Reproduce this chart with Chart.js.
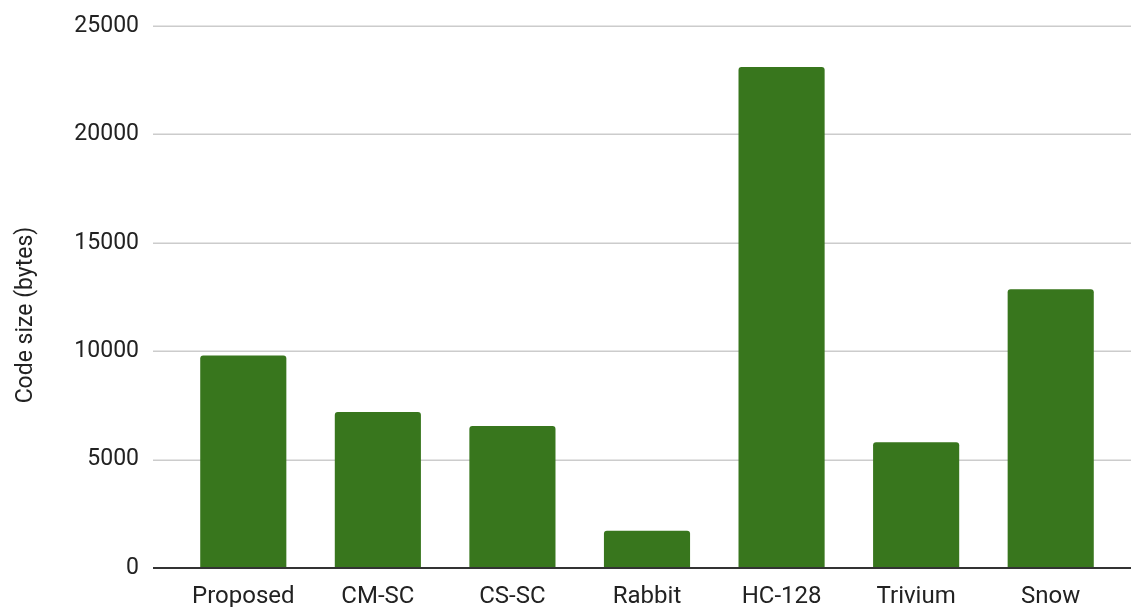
<!DOCTYPE html>
<html>
<head>
<meta charset="utf-8">
<script src="https://cdn.jsdelivr.net/npm/chart.js@4/dist/chart.umd.min.js"></script>
<style>
  html, body { margin: 0; padding: 0; background: #fff; overflow: hidden; }
  #wrap { width: 1131px; height: 607px; position: relative; }
  #wrap canvas { display: block; }
</style>
</head>
<body>
<div id="wrap"><canvas id="c"></canvas></div>
<script>
// Code size of each cipher implementation, in bytes
const categories = ['Proposed', 'CM-SC', 'CS-SC', 'Rabbit', 'HC-128', 'Trivium', 'Snow'];
const codeSize = [9800, 7200, 6550, 1720, 23110, 5800, 12860];
const yTicks = [0, 5000, 10000, 15000, 20000, 25000];
const yTitle = 'Code size (bytes)';

const FONT = 'Roboto, "Noto Sans", sans-serif';
const TEXT = '#222222';

// Horizontal rules run from a little left of the bars to the canvas edge
const rulesPlugin = {
  id: 'rules',
  beforeDatasetsDraw(chart) {
    const { ctx, chartArea, scales } = chart;
    const y = scales.y;
    const left = chartArea.left - 23;
    ctx.save();
    ctx.strokeStyle = '#cccccc';
    ctx.lineWidth = 1.5;
    y.ticks.forEach(t => {
      if (t.value === 0) return;
      const py = Math.round(y.getPixelForValue(t.value)) + 0.25;
      ctx.beginPath();
      ctx.moveTo(left, py);
      ctx.lineTo(chart.width, py);
      ctx.stroke();
    });
    ctx.restore();
  },
  afterDatasetsDraw(chart) {
    const { ctx, chartArea, scales } = chart;
    const y = scales.y;
    const left = chartArea.left - 23;
    const py = y.getPixelForValue(0);
    ctx.save();
    ctx.strokeStyle = '#333333';
    ctx.lineWidth = 2;
    ctx.beginPath();
    ctx.moveTo(left, py);
    ctx.lineTo(chart.width, py);
    ctx.stroke();

    // vertical axis title
    ctx.fillStyle = TEXT;
    ctx.font = '23px ' + FONT;
    ctx.textAlign = 'center';
    ctx.textBaseline = 'middle';
    ctx.translate(26, (chartArea.top + chartArea.bottom) / 2 + 18);
    ctx.rotate(-Math.PI / 2);
    ctx.fillText(yTitle, 0, 0);
    ctx.restore();
  }
};

new Chart(document.getElementById('c'), {
  type: 'bar',
  data: {
    labels: categories,
    datasets: [{
      data: codeSize,
      backgroundColor: '#38761d',
      borderWidth: 0,
      borderRadius: { topLeft: 3, topRight: 3, bottomLeft: 0, bottomRight: 0 },
      borderSkipped: 'start',
      categoryPercentage: 1,
      barPercentage: 0.64
    }]
  },
  options: {
    responsive: true,
    maintainAspectRatio: false,
    animation: false,
    devicePixelRatio: 1,
    layout: { padding: { top: 26, right: 13, left: 0, bottom: 0 } },
    plugins: {
      legend: { display: false },
      tooltip: { enabled: false }
    },
    scales: {
      x: {
        grid: { display: false, drawTicks: false },
        border: { display: false },
        ticks: {
          color: TEXT,
          font: { family: FONT, size: 24 },
          padding: 15,
          maxRotation: 0,
          autoSkip: false
        },
        afterFit(scale) { scale.height = 39; }
      },
      y: {
        min: 0,
        max: 25000,
        afterBuildTicks(scale) { scale.ticks = yTicks.map(v => ({ value: v })); },
        grid: { display: false, drawTicks: false },
        border: { display: false },
        ticks: {
          color: TEXT,
          font: { family: FONT, size: 23 },
          padding: 37,
          callback: v => String(v)
        },
        afterFit(scale) {
          scale.width = 176;
          scale.paddingTop = 0;
          scale.paddingBottom = 0;
        }
      }
    }
  },
  plugins: [rulesPlugin]
});
</script>
</body>
</html>
